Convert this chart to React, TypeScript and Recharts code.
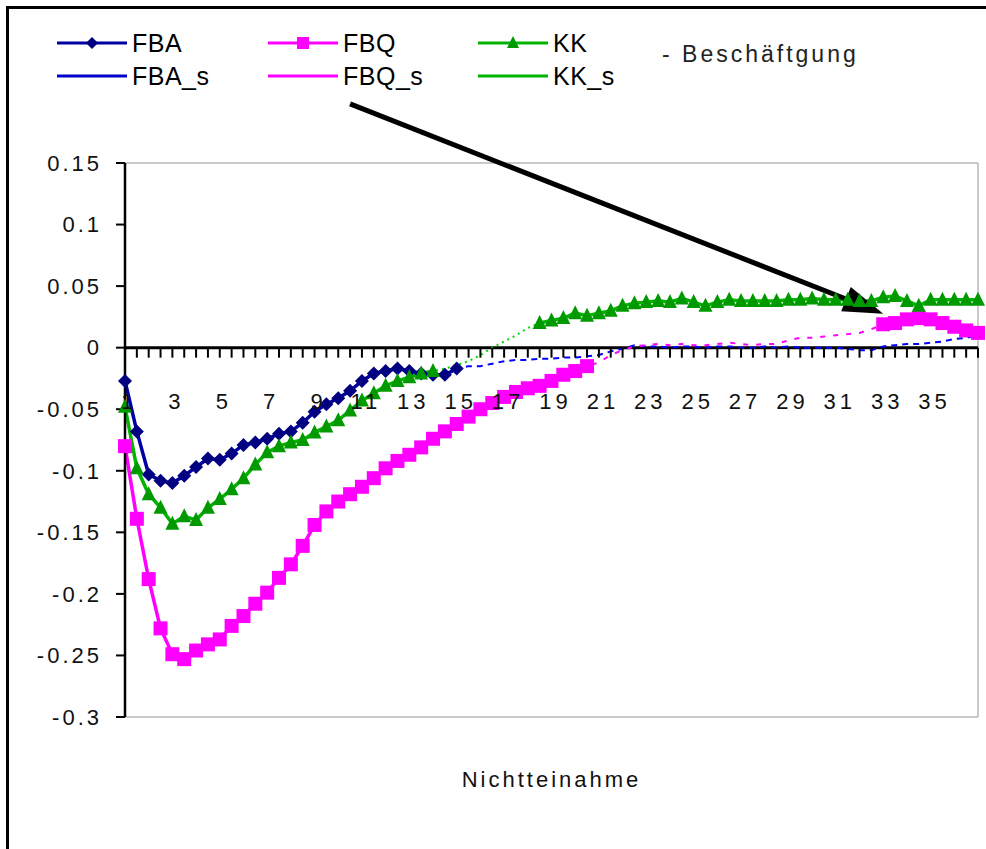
import { LineChart, Line, XAxis, YAxis, ReferenceLine } from 'recharts';

const PERIODS = [
  1, 1.5, 2, 2.5, 3, 3.5, 4, 4.5, 5, 5.5, 6, 6.5, 7, 7.5, 8, 8.5, 9, 9.5, 10, 10.5,
  11, 11.5, 12, 12.5, 13, 13.5, 14, 14.5, 15, 15.5, 16, 16.5, 17, 17.5, 18, 18.5, 19, 19.5,
  20, 20.5, 21, 21.5, 22, 22.5, 23, 23.5, 24, 24.5, 25, 25.5, 26, 26.5, 27, 27.5, 28, 28.5,
  29, 29.5, 30, 30.5, 31, 31.5, 32, 32.5, 33, 33.5, 34, 34.5, 35, 35.5, 36, 36.5, 37,
];
const X_LABELS = [1, 3, 5, 7, 9, 11, 13, 15, 17, 19, 21, 23, 25, 27, 29, 31, 33, 35];
const Y_TICKS = [0.15, 0.1, 0.05, 0, -0.05, -0.1, -0.15, -0.2, -0.25, -0.3];

const FBA_S = [
  -0.027, -0.068, -0.103, -0.108, -0.110, -0.104, -0.097, -0.090, -0.091, -0.086,
  -0.079, -0.077, -0.074, -0.070, -0.068, -0.061, -0.052, -0.046, -0.041, -0.035,
  -0.027, -0.021, -0.019, -0.017, -0.019, -0.021, -0.022, -0.022, -0.017, -0.015,
  -0.015, -0.013, -0.011, -0.010, -0.010, -0.009, -0.009, -0.008, -0.008, -0.007,
  -0.006, -0.003, -0.001, 0.002, 0.001, 0.001, 0.000, 0.001, 0.001, 0.000,
  0.001, 0.001, 0.000, 0.000, 0.001, 0.000, 0.001, 0.000, 0.000, 0.000,
  0.000, -0.001, -0.002, -0.002, 0.001, 0.002, 0.003, 0.003, 0.004, 0.005,
  0.007, 0.008, 0.010,
];
const FBQ_S = [
  -0.080, -0.139, -0.188, -0.228, -0.249, -0.253, -0.246, -0.241, -0.237, -0.226,
  -0.218, -0.208, -0.199, -0.187, -0.176, -0.161, -0.144, -0.133, -0.125, -0.119,
  -0.113, -0.106, -0.098, -0.092, -0.087, -0.081, -0.074, -0.068, -0.062, -0.056,
  -0.050, -0.045, -0.040, -0.036, -0.033, -0.031, -0.027, -0.022, -0.019, -0.015,
  -0.012, -0.006, -0.002, 0.001, 0.002, 0.003, 0.002, 0.003, 0.002, 0.002,
  0.003, 0.004, 0.003, 0.002, 0.003, 0.003, 0.006, 0.008, 0.008, 0.009,
  0.010, 0.011, 0.012, 0.015, 0.019, 0.020, 0.023, 0.024, 0.023, 0.020,
  0.017, 0.014, 0.012,
];
const KK_S = [
  -0.048, -0.098, -0.119, -0.130, -0.143, -0.137, -0.140, -0.130, -0.123, -0.115,
  -0.106, -0.095, -0.085, -0.080, -0.077, -0.075, -0.069, -0.064, -0.059, -0.051,
  -0.043, -0.037, -0.031, -0.027, -0.024, -0.021, -0.019, -0.017, -0.014, -0.011,
  -0.006, 0.000, 0.005, 0.010, 0.016, 0.020, 0.022, 0.024, 0.028, 0.026,
  0.028, 0.030, 0.034, 0.036, 0.037, 0.038, 0.037, 0.040, 0.037, 0.034,
  0.037, 0.039, 0.038, 0.038, 0.038, 0.038, 0.039, 0.039, 0.040, 0.039,
  0.039, 0.039, 0.038, 0.038, 0.041, 0.042, 0.038, 0.034, 0.039, 0.039,
  0.039, 0.039, 0.039,
];

// index ranges (inclusive) drawn with markers
const FBA_SIG = [[0, 28]];
const FBQ_SIG = [[0, 39], [64, 72]];
const KK_SIG = [[0, 26], [35, 72]];

const inRanges = (i: number, r: number[][]) => r.some(([a, b]) => i >= a && i <= b);

const data = PERIODS.map((p, i) => ({
  period: p,
  FBA: inRanges(i, FBA_SIG) ? FBA_S[i] : null,
  FBQ: inRanges(i, FBQ_SIG) ? FBQ_S[i] : null,
  KK: inRanges(i, KK_SIG) ? KK_S[i] : null,
  FBA_s: FBA_S[i],
  FBQ_s: FBQ_S[i],
  KK_s: KK_S[i],
}));

const W = 986;
const H = 849;
const MARGIN = { top: 163, right: 8, bottom: 52, left: 25 };
const XAXIS_H = 80;
const Y_MIN = -0.3;
const Y_MAX = 0.15;
const PLOT_H = H - MARGIN.top - MARGIN.bottom - XAXIS_H;
const ZERO_SHIFT = (PLOT_H * (0 - Y_MIN)) / (Y_MAX - Y_MIN);

const BLUE = '#0000a0';
const PINK = '#ff00ff';
const GREEN = '#00b400';

function XTick(props: any) {
  const { x, y, payload } = props;
  const zy = y - ZERO_SHIFT;
  const show = X_LABELS.includes(payload.value);
  return (
    <g>
      <line x1={x} x2={x} y1={zy} y2={zy + 10} stroke="#000" strokeWidth={2} />
      {show && (
        <text x={x + 4} y={zy + 61} textAnchor="middle" fontSize={22} fill="#111" style={{ letterSpacing: '4px' }}>
          {payload.value}
        </text>
      )}
    </g>
  );
}

const diamond = (p: any) => {
  const { cx, cy, index } = p;
  if (cx == null || cy == null) return <g key={index} />;
  return <path key={index} d={`M${cx},${cy - 7}L${cx + 7},${cy}L${cx},${cy + 7}L${cx - 7},${cy}Z`} fill="#000080" />;
};
const square = (p: any) => {
  const { cx, cy, index } = p;
  if (cx == null || cy == null) return <g key={index} />;
  return <rect key={index} x={cx - 7} y={cy - 7} width={14} height={14} fill={PINK} />;
};
const triangle = (p: any) => {
  const { cx, cy, index } = p;
  if (cx == null || cy == null) return <g key={index} />;
  return <path key={index} d={`M${cx},${cy - 8}L${cx + 7},${cy + 6}L${cx - 7},${cy + 6}Z`} fill="#009a00" />;
};

function Arrow(props: any) {
  const { x1, y1, x2, y2 } = props;
  const ang = Math.atan2(y2 - y1, x2 - x1);
  const len = 40;
  const half = 13;
  const bx = x2 - len * Math.cos(ang);
  const by = y2 - len * Math.sin(ang);
  const px = -Math.sin(ang) * half;
  const py = Math.cos(ang) * half;
  return (
    <g>
      <line x1={x1} y1={y1} x2={bx} y2={by} stroke="#000" strokeWidth={5} />
      <path d={`M${x2},${y2}L${bx + px},${by + py}L${bx - px},${by - py}Z`} fill="#000" />
    </g>
  );
}

const LEGEND = [
  { name: 'FBA', color: BLUE, marker: 'diamond', x: 57, y: 43 },
  { name: 'FBQ', color: PINK, marker: 'square', x: 268, y: 43 },
  { name: 'KK', color: GREEN, marker: 'triangle', x: 478, y: 43 },
  { name: 'FBA_s', color: '#0000cc', marker: '', x: 57, y: 76 },
  { name: 'FBQ_s', color: PINK, marker: '', x: 268, y: 76 },
  { name: 'KK_s', color: GREEN, marker: '', x: 478, y: 76 },
];

function Legend() {
  return (
    <svg width={W} height={110} style={{ position: 'absolute', left: 0, top: 0 }}>
      {LEGEND.map((l) => {
        const mx = l.x + 35;
        return (
          <g key={l.name}>
            <line x1={l.x} x2={l.x + 70} y1={l.y} y2={l.y} stroke={l.color} strokeWidth={3} />
            {l.marker === 'diamond' && <path d={`M${mx},${l.y - 6}L${mx + 6},${l.y}L${mx},${l.y + 6}L${mx - 6},${l.y}Z`} fill="#000080" />}
            {l.marker === 'square' && <rect x={mx - 6} y={l.y - 6} width={12} height={12} fill={PINK} />}
            {l.marker === 'triangle' && <path d={`M${mx},${l.y - 7}L${mx + 6},${l.y + 5}L${mx - 6},${l.y + 5}Z`} fill="#009a00" />}
            <text x={l.x + 75} y={l.y + 9} fontSize={25} fill="#000" style={{ letterSpacing: '0.5px' }}>
              {l.name}
            </text>
          </g>
        );
      })}
      <text x={662} y={62} fontSize={23} fill="#222" style={{ letterSpacing: '3px' }}>- Beschäftgung</text>
    </svg>
  );
}

export default function App() {
  return (
    <div
      style={{
        position: 'fixed', left: 0, top: 0, width: W, height: H, overflow: 'hidden',
        background: '#fff', fontFamily: "'Liberation Sans', Arial, sans-serif", letterSpacing: '3px',
      }}
    >
      <div
        style={{
          position: 'absolute', left: 6, top: 6, width: W + 20, height: H + 20,
          borderTop: '3px solid #000', borderLeft: '3px solid #000',
        }}
      />
      <LineChart width={W} height={H} data={data} margin={MARGIN}>
        <ReferenceLine y={Y_MAX} stroke="#b8b8b8" strokeWidth={1.5} />
        <ReferenceLine y={Y_MIN} stroke="#b8b8b8" strokeWidth={1.5} />
        <ReferenceLine x={37} stroke="#b8b8b8" strokeWidth={1.5} />
        <XAxis
          dataKey="period"
          type="category"
          interval={0}
          height={XAXIS_H}
          tickSize={0}
          tickMargin={0}
          axisLine={false}
          tickLine={false}
          tick={(p: any) => <XTick {...p} />}
          label={{ value: 'Nichtteinahme', position: 'insideBottom', offset: 10, fontSize: 22, fill: '#111' }}
        />
        <YAxis
          domain={[Y_MIN, Y_MAX]}
          ticks={Y_TICKS}
          interval={0}
          allowDataOverflow
          width={100}
          tickSize={9}
          tickMargin={14}
          axisLine={{ stroke: '#000', strokeWidth: 2.5 }}
          tickLine={{ stroke: '#000', strokeWidth: 2 }}
          tick={{ fill: '#111', fontSize: 22 }}
        />
        <ReferenceLine y={0} stroke="#000" strokeWidth={3} />
        <Line dataKey="FBA_s" stroke="#0000ff" strokeWidth={2} strokeDasharray="6 5" dot={false} isAnimationActive={false} />
        <Line dataKey="FBQ_s" stroke={PINK} strokeWidth={2} strokeDasharray="5 8" dot={false} isAnimationActive={false} />
        <Line dataKey="KK_s" stroke="#00dd00" strokeWidth={2} strokeDasharray="2 4" dot={false} isAnimationActive={false} />
        <Line dataKey="FBA" stroke={BLUE} strokeWidth={3.5} dot={diamond} isAnimationActive={false} />
        <Line dataKey="FBQ" stroke={PINK} strokeWidth={3.5} dot={square} isAnimationActive={false} />
        <Line dataKey="KK" stroke={GREEN} strokeWidth={3.5} dot={triangle} isAnimationActive={false} />
        <ReferenceLine
          segment={[{ x: 10.5, y: 0.198 }, { x: 33, y: 0.0276 }]}
          ifOverflow="visible"
          shape={(p: any) => <Arrow {...p} />}
        />
      </LineChart>
      <Legend />
    </div>
  );
}
